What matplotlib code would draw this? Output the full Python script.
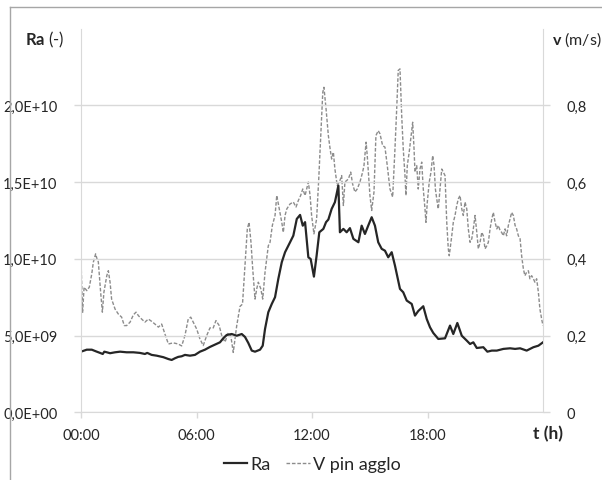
import matplotlib
matplotlib.use("Agg")
import matplotlib.pyplot as plt
from matplotlib.lines import Line2D
from matplotlib.ticker import FuncFormatter

plt.rcParams["font.family"] = ["Lato", "DejaVu Sans"]
plt.rcParams["mathtext.fontset"] = "custom"
plt.rcParams["mathtext.rm"] = "Lato"
plt.rcParams["mathtext.bf"] = "Lato:bold"

# Ra (in 1E+09), hours
t_ra = [0.00, 0.30, 0.56, 0.82, 0.99, 1.13, 1.21, 1.34, 1.51, 1.77, 2.03, 2.37,
        2.72, 3.06, 3.32, 3.44, 3.67, 3.93, 4.28, 4.54, 4.71, 4.88, 5.05, 5.23,
        5.40, 5.66, 5.92, 6.18, 6.44, 6.70, 6.96, 7.22, 7.39, 7.57, 7.83, 8.09,
        8.35, 8.52, 8.69, 8.87, 9.04, 9.30, 9.44, 9.56, 9.73, 9.91, 10.08, 10.25,
        10.43, 10.60, 10.86, 11.03, 11.21, 11.38, 11.52, 11.64, 11.81, 11.93, 12.10, 12.24,
        12.38, 12.59, 12.73, 12.85, 13.02, 13.19, 13.37, 13.45, 13.63, 13.80, 13.97, 14.15,
        14.41, 14.58, 14.75, 14.92, 15.10, 15.27, 15.44, 15.62, 15.79, 15.96, 16.14, 16.31,
        16.57, 16.74, 16.92, 17.18, 17.35, 17.52, 17.78, 17.96, 18.13, 18.30, 18.56, 18.91,
        19.17, 19.34, 19.55, 19.78, 20.04, 20.21, 20.38, 20.56, 20.90, 21.11, 21.34, 21.60,
        21.94, 22.29, 22.55, 22.81, 23.15, 23.50, 23.76, 24.00]
ra = [3.95, 4.08, 4.08, 3.95, 3.87, 3.80, 3.95, 3.91, 3.85, 3.91, 3.95, 3.91,
      3.91, 3.87, 3.80, 3.87, 3.74, 3.69, 3.59, 3.47, 3.41, 3.52, 3.61, 3.65,
      3.74, 3.69, 3.74, 3.95, 4.08, 4.26, 4.41, 4.56, 4.82, 5.04, 5.10, 4.99,
      5.10, 4.91, 4.52, 4.02, 3.95, 4.08, 4.34, 5.43, 6.52, 7.06, 7.50, 8.69,
      9.78, 10.43, 11.08, 11.51, 12.60, 12.86, 12.16, 12.39, 10.10, 9.99, 8.84, 10.21,
      11.73, 11.95, 12.39, 12.56, 13.25, 13.69, 14.77, 11.73, 11.95, 11.73, 12.00, 11.30,
      11.08, 12.16, 11.62, 12.16, 12.71, 12.16, 11.08, 10.65, 10.53, 10.10, 10.43, 9.56,
      8.04, 7.82, 7.28, 7.06, 6.30, 6.60, 6.91, 6.08, 5.54, 5.17, 4.78, 4.82,
      5.65, 5.10, 5.82, 4.99, 4.67, 4.45, 4.56, 4.19, 4.24, 3.95, 4.02, 4.02,
      4.13, 4.17, 4.13, 4.17, 4.02, 4.24, 4.34, 4.56]

# V pin agglo (m/s), hours
t_v = [0.00, 0.08, 0.16, 0.30, 0.43, 0.56, 0.64, 0.76, 0.83, 0.90, 1.02, 1.11,
       1.19, 1.34, 1.42, 1.51, 1.59, 1.77, 1.94, 2.11, 2.25, 2.37, 2.55, 2.72,
       2.86, 2.98, 3.15, 3.32, 3.50, 3.67, 3.84, 4.02, 4.19, 4.36, 4.54, 4.79,
       5.05, 5.23, 5.40, 5.57, 5.70, 5.83, 6.01, 6.18, 6.35, 6.53, 6.70, 6.87,
       7.01, 7.18, 7.31, 7.48, 7.65, 7.78, 7.91, 8.09, 8.26, 8.39, 8.52, 8.64,
       8.73, 8.83, 8.92, 9.04, 9.13, 9.21, 9.34, 9.44, 9.56, 9.73, 9.82, 9.94,
       10.08, 10.17, 10.30, 10.43, 10.51, 10.60, 10.69, 10.86, 11.03, 11.17, 11.29, 11.41,
       11.52, 11.64, 11.81, 11.90, 11.98, 12.10, 12.24, 12.35, 12.45, 12.56, 12.62, 12.73,
       12.85, 12.94, 13.02, 13.11, 13.19, 13.31, 13.45, 13.54, 13.63, 13.71, 13.89, 14.01,
       14.11, 14.23, 14.35, 14.49, 14.63, 14.70, 14.81, 14.87, 15.01, 15.10, 15.22, 15.32,
       15.44, 15.53, 15.67, 15.79, 15.91, 16.05, 16.19, 16.31, 16.40, 16.48, 16.57, 16.66,
       16.74, 16.83, 16.88, 16.95, 17.05, 17.13, 17.23, 17.30, 17.35, 17.44, 17.52, 17.61,
       17.70, 17.78, 17.87, 17.92, 17.99, 18.09, 18.18, 18.27, 18.34, 18.41, 18.48, 18.56,
       18.65, 18.74, 18.82, 18.91, 19.00, 19.08, 19.13, 19.26, 19.34, 19.43, 19.52, 19.60,
       19.69, 19.78, 19.86, 19.95, 20.04, 20.12, 20.21, 20.30, 20.38, 20.47, 20.56, 20.64,
       20.73, 20.82, 20.90, 20.99, 21.08, 21.16, 21.25, 21.34, 21.42, 21.51, 21.60, 21.68,
       21.77, 21.85, 21.94, 22.03, 22.11, 22.20, 22.29, 22.37, 22.46, 22.55, 22.63, 22.72,
       22.81, 22.89, 22.98, 23.06, 23.15, 23.24, 23.32, 23.41, 23.50, 23.58, 23.67, 23.76,
       23.84, 23.93, 24.00]
v = [0.400, 0.259, 0.326, 0.317, 0.326, 0.361, 0.391, 0.413, 0.400, 0.392, 0.313, 0.261,
     0.313, 0.356, 0.369, 0.339, 0.295, 0.269, 0.256, 0.248, 0.226, 0.226, 0.235, 0.254,
     0.261, 0.252, 0.243, 0.235, 0.243, 0.237, 0.230, 0.222, 0.230, 0.204, 0.178, 0.181,
     0.178, 0.173, 0.200, 0.243, 0.248, 0.235, 0.217, 0.191, 0.174, 0.200, 0.220, 0.220,
     0.239, 0.226, 0.200, 0.183, 0.207, 0.200, 0.156, 0.226, 0.276, 0.282, 0.382, 0.478,
     0.495, 0.443, 0.374, 0.295, 0.322, 0.339, 0.322, 0.295, 0.365, 0.434, 0.443, 0.487,
     0.513, 0.565, 0.530, 0.495, 0.469, 0.513, 0.530, 0.543, 0.548, 0.535, 0.552, 0.565,
     0.582, 0.565, 0.600, 0.565, 0.513, 0.465, 0.504, 0.608, 0.713, 0.834, 0.847, 0.791,
     0.721, 0.687, 0.660, 0.678, 0.634, 0.591, 0.604, 0.617, 0.539, 0.600, 0.608, 0.626,
     0.595, 0.574, 0.582, 0.600, 0.626, 0.643, 0.704, 0.669, 0.565, 0.526, 0.574, 0.721,
     0.734, 0.726, 0.695, 0.691, 0.643, 0.582, 0.561, 0.687, 0.791, 0.891, 0.895, 0.773,
     0.687, 0.617, 0.565, 0.643, 0.678, 0.713, 0.756, 0.687, 0.626, 0.643, 0.582, 0.634,
     0.652, 0.582, 0.530, 0.495, 0.548, 0.600, 0.626, 0.669, 0.643, 0.582, 0.556, 0.530,
     0.582, 0.634, 0.626, 0.617, 0.495, 0.426, 0.408, 0.460, 0.495, 0.513, 0.539, 0.556,
     0.565, 0.530, 0.513, 0.548, 0.530, 0.478, 0.443, 0.452, 0.478, 0.513, 0.469, 0.426,
     0.443, 0.469, 0.460, 0.426, 0.434, 0.443, 0.478, 0.504, 0.521, 0.495, 0.478, 0.487,
     0.474, 0.469, 0.460, 0.478, 0.460, 0.487, 0.504, 0.521, 0.513, 0.487, 0.478, 0.460,
     0.452, 0.408, 0.374, 0.356, 0.365, 0.369, 0.348, 0.356, 0.348, 0.339, 0.348, 0.313,
     0.269, 0.243, 0.226]

ra_ticks = [0, 5, 10, 15, 20]
v_ticks = [0, 0.2, 0.4, 0.6, 0.8]
t_ticks = [0, 6, 12, 18]
t_labels = ["00:00", "06:00", "12:00", "18:00"]

GRID = "#d9d9d9"
W, H = 602, 481

fig = plt.figure(figsize=(W / 100, H / 100), dpi=100)
ax = fig.add_axes([81 / W, 1 - 413.3 / H, (543 - 81) / W, (413.3 - 29.6) / H])
ax2 = ax.twinx()

ln_v, = ax2.plot(t_v, v, color="#8c8c8c", lw=1.0, dashes=(2.6, 1.3),
                 label="V pin agglo")
ln_ra, = ax.plot(t_ra, ra, color="#262626", lw=1.6, label="Ra")
ax.set_zorder(ax2.get_zorder() + 1)
ax.patch.set_visible(False)

ax.set_xlim(0, 24)
ax.set_ylim(0, 25)
ax2.set_ylim(0, 1.0)

ax.set_yticks(ra_ticks)
ax.yaxis.set_major_formatter(
    FuncFormatter(lambda y, _: f"{y * 1e9:.1E}".replace(".", ",")))
ax2.set_yticks(v_ticks)
ax2.yaxis.set_major_formatter(
    FuncFormatter(lambda y, _: "0" if y == 0 else f"{y:.1f}".replace(".", ",")))
ax.set_xticks(t_ticks)
ax.set_xticklabels(t_labels)

ax.grid(axis="y", color=GRID, lw=1.0)
for a in (ax, ax2):
    for s in a.spines.values():
        s.set_visible(False)
    a.tick_params(colors=GRID, labelcolor="#262626", labelsize=10.5,
                  width=1.0)
ax.spines["left"].set_visible(True)
ax.spines["left"].set_color(GRID)
ax.spines["bottom"].set_visible(True)
ax.spines["bottom"].set_color(GRID)
ax2.spines["right"].set_visible(True)
ax2.spines["right"].set_color(GRID)
ax.tick_params(axis="y", length=5, pad=12)
ax2.tick_params(axis="y", length=5, pad=12)
ax.tick_params(axis="x", length=4, pad=7)

fig.text(65 / W, 1 - 40 / H, r"$\mathbf{Ra}$ (-)", ha="right", va="center",
         fontsize=12, color="#262626")
fig.text(552 / W, 1 - 40 / H, r"$\mathbf{v}$ (m/s)", ha="left", va="center",
         fontsize=11.5, color="#262626")
fig.text(548 / W, 1 - 434 / H, "t (h)", ha="center", va="center",
         fontsize=12.5, fontweight="bold", color="#262626")

fig.legend(handles=[ln_ra, ln_v], loc="center", ncol=2, frameon=False,
           bbox_to_anchor=(312 / W, 1 - 465 / H), fontsize=13,
           handlelength=1.3, handletextpad=0.15, columnspacing=0.9,
           labelcolor="#262626")

# outer chart frame (cut off at right and bottom)
fig.add_artist(Line2D([10 / W, 1], [1 - 8 / H, 1 - 8 / H], color="#a6a6a6", lw=1.0))
fig.add_artist(Line2D([10 / W, 10 / W], [0, 1 - 8 / H], color="#a6a6a6", lw=1.0))

fig.savefig("out.png", dpi=100)
